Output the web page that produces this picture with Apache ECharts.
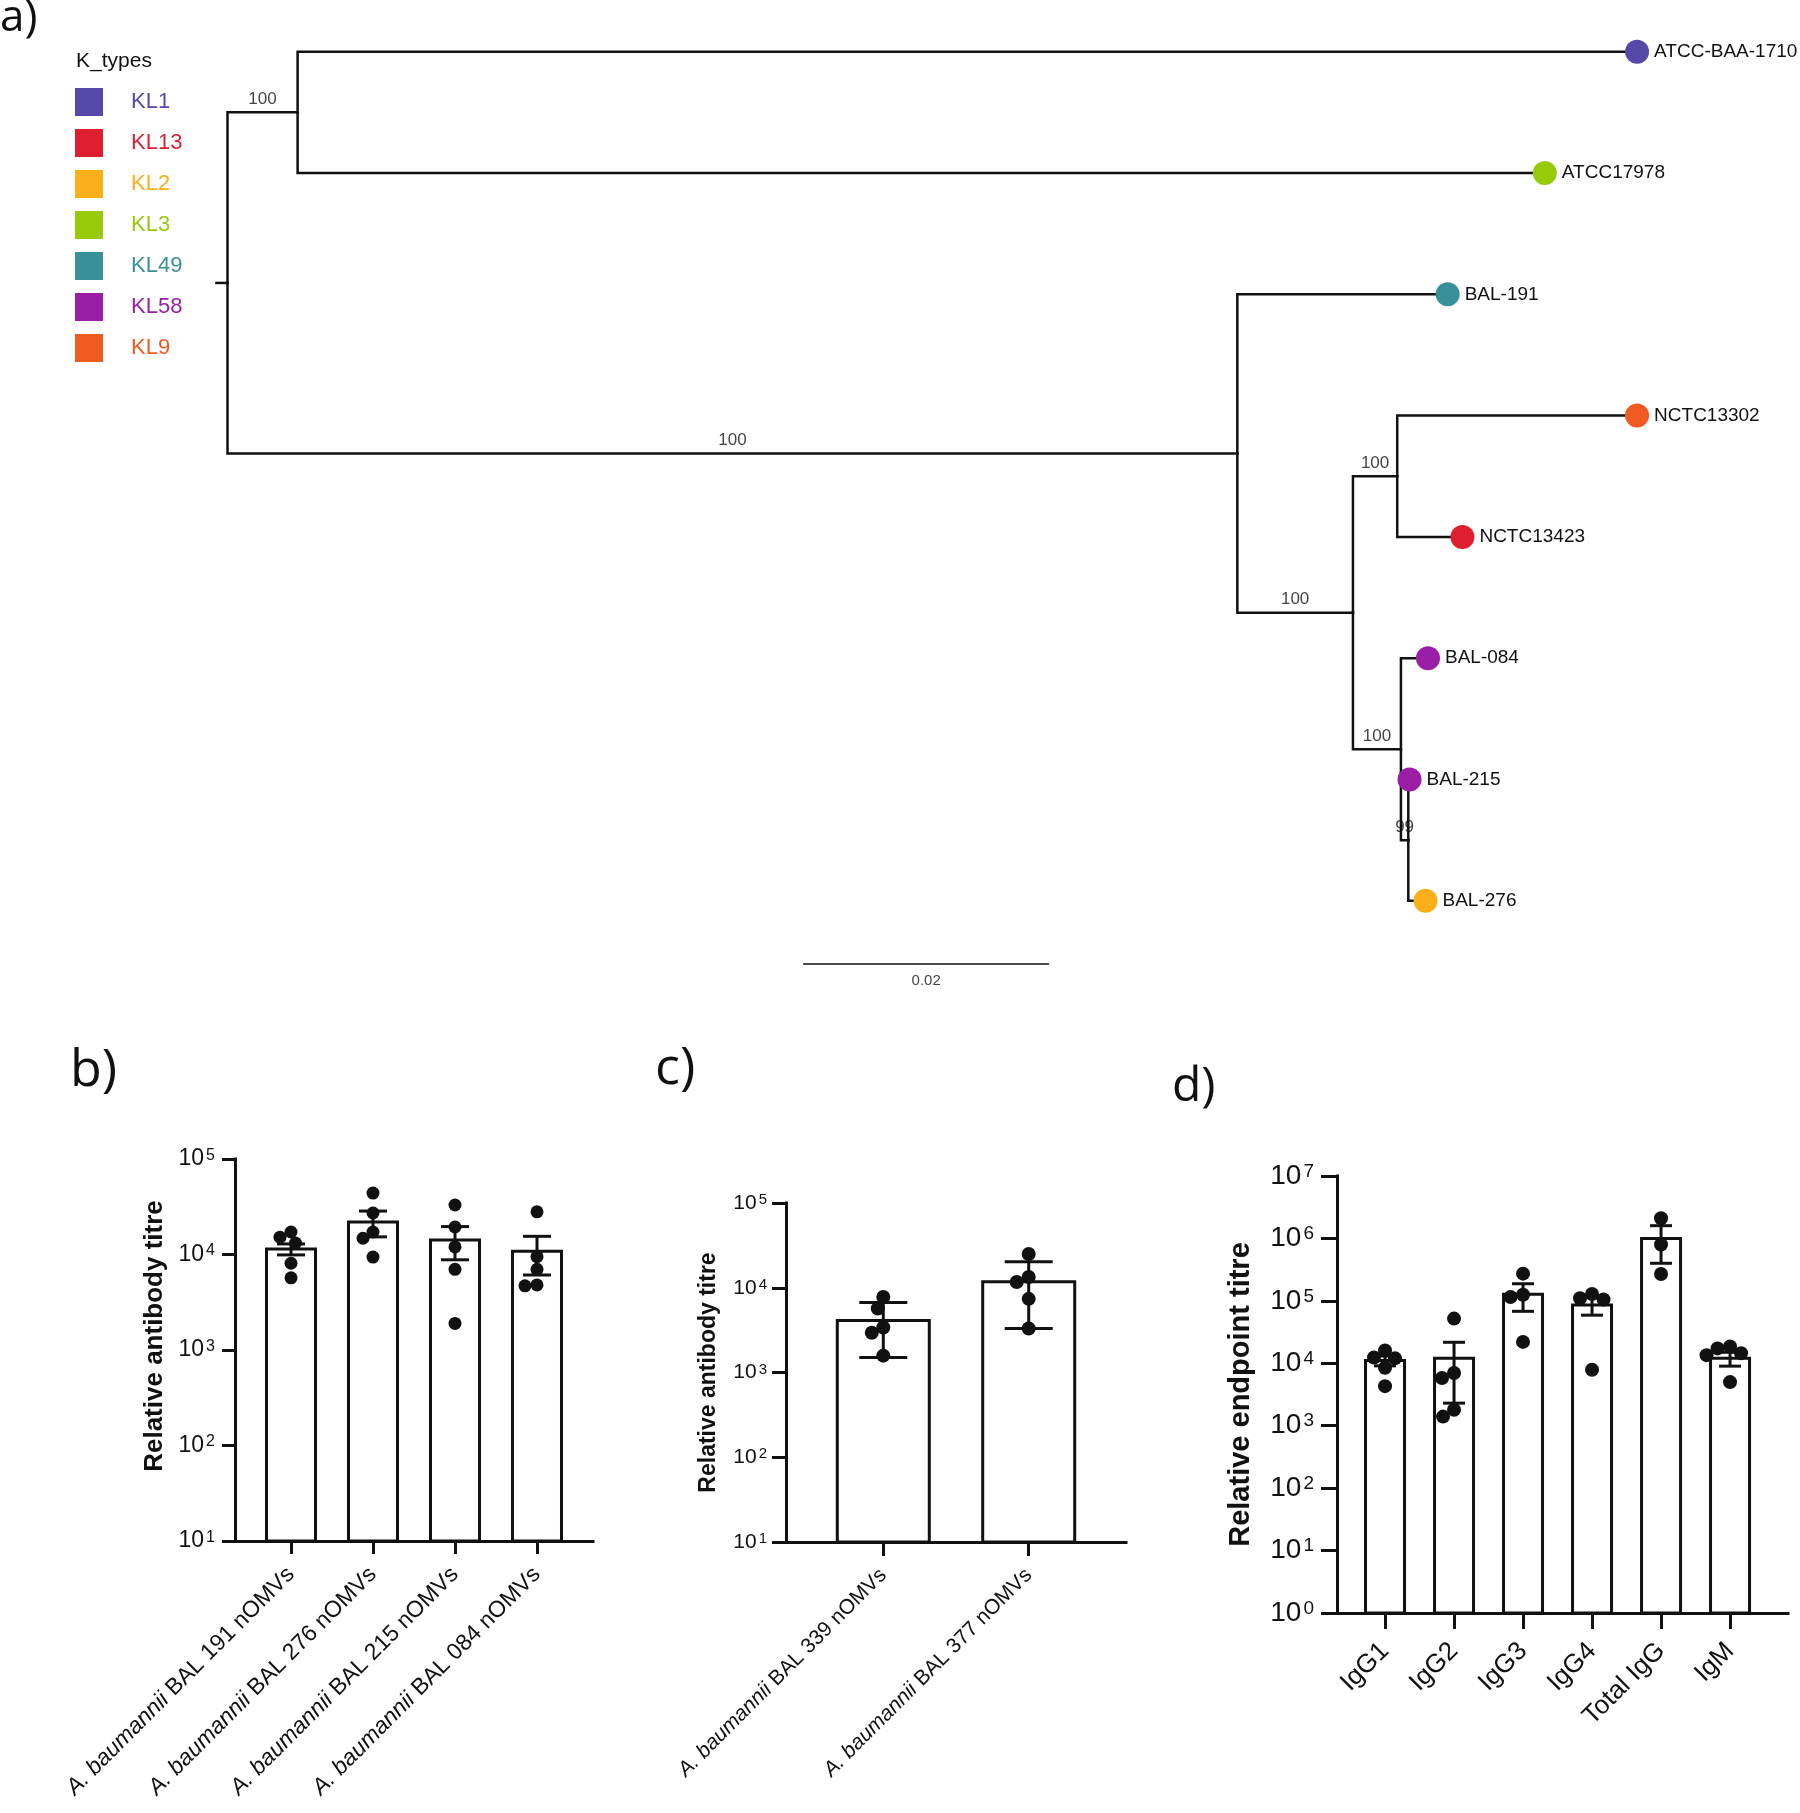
<!DOCTYPE html>
<html><head><meta charset="utf-8">
<script src="https://cdn.jsdelivr.net/npm/echarts@6/dist/echarts.min.js"></script>
<style>html,body{margin:0;padding:0;background:#fff}#c{width:1800px;height:1813px}</style>
</head><body><div id="c"></div>
<script>
// ================= DATA =================
// Phylogenetic tree (a)
const kTypes  = ['KL1','KL13','KL2','KL3','KL49','KL58','KL9'];
const kColors = ['#5548A8','#DF1F30','#F9AE1A','#97CB0A','#3A9098','#9B1EA6','#F15A22'];
const tipNames = ['ATCC-BAA-1710','ATCC17978','BAL-191','NCTC13302','NCTC13423','BAL-084','BAL-215','BAL-276'];
const tipKType = ['KL1','KL3','KL49','KL9','KL13','KL58','KL58','KL2'];
const edgeParent = ['root','n1','n1','root','n2','n2','n3','n4','n4','n3','n5','n5','n6','n6'];
const edgeChild  = ['n1','ATCC-BAA-1710','ATCC17978','n2','BAL-191','n3','n4','NCTC13302','NCTC13423','n5','BAL-084','n6','BAL-215','BAL-276'];
const edgeLength = [0.0057,0.1089,0.1014,0.0821,0.0171,0.0094,0.0036,0.0195,0.0053,0.0039,0.0022,0.0006,0.0001,0.0014];
const supportNodes  = ['n1','n2','n3','n4','n5','n6'];
const supportValues = [100,100,100,100,100,99];
const scaleBarValue = 0.02;

// Panel b
const bCategories = ['A. baumannii BAL 191 nOMVs','A. baumannii BAL 276 nOMVs','A. baumannii BAL 215 nOMVs','A. baumannii BAL 084 nOMVs'];
const bMean = [11400, 21900, 14200, 10800];
const bSem  = [1500, 6600, 5400, 4700];
const bPoints = [
  [17200, 15200, 13200, 8100, 5700],
  [44000, 27200, 17200, 14800, 9400],
  [33000, 19400, 12000, 7000, 1900],
  [28000, 9500, 7000, 4800, 4700]
];
const bTicks = [10, 100, 1000, 10000, 100000];

// Panel c
const cCategories = ['A. baumannii BAL 339 nOMVs','A. baumannii BAL 377 nOMVs'];
const cMean = [4100, 11800];
const cSem  = [2600, 8500];
const cPoints = [
  [7800, 5700, 3400, 2950, 1580],
  [25000, 13400, 11700, 7400, 3300]
];
const cTicks = [10, 100, 1000, 10000, 100000];

// Panel d
const dCategories = ['IgG1','IgG2','IgG3','IgG4','Total IgG','IgM'];
const dMean = [11100, 12000, 128000, 86000, 1000000, 12000];
const dSem  = [2000, 9700, 60000, 27000, 600000, 3000];
const dPoints = [
  [16000, 12400, 12000, 8500, 4300],
  [52000, 7000, 5800, 1800, 1400],
  [273000, 125000, 115000, 22000],
  [129000, 110000, 105000, 7900],
  [2100000, 800000, 270000],
  [18600, 17300, 14500, 13500, 5000]
];
const dTicks = [1, 10, 100, 1000, 10000, 100000, 1000000, 10000000];

// ================= BUILD =================
const SANS = "'Liberation Sans', Arial, sans-serif";
const INK = '#111';

// --- tree layout in data units ---
const nodeX = { root: 0 };
edgeChild.forEach((c, i) => { nodeX[c] = nodeX[edgeParent[i]] + edgeLength[i]; });
function nodeY(n) {
  const t = tipNames.indexOf(n);
  if (t >= 0) return t;
  const ys = [];
  edgeParent.forEach((p, i) => { if (p === n) ys.push(nodeY(edgeChild[i])); });
  return (Math.min(...ys) + Math.max(...ys)) / 2;
}
const branchData = edgeChild.map((c, i) => {
  const p = edgeParent[i];
  return { coords: [[nodeX[p], nodeY(p)], [nodeX[p], nodeY(c)], [nodeX[c], nodeY(c)]] };
});
const rootStub = 0.0009;
branchData.push({ coords: [[-rootStub, nodeY('root')], [0, nodeY('root')]] });

const supportData = supportNodes.map((n, i) => {
  const p = edgeParent[edgeChild.indexOf(n)];
  return { value: [(nodeX[p] + nodeX[n]) / 2, nodeY(n)], label: { formatter: String(supportValues[i]) } };
});

const scaleX0 = 0.0468, scaleY = 7.52;

const tipSeries = kTypes.map((k, ki) => ({
  name: k, type: 'scatter', xAxisIndex: 0, yAxisIndex: 0, z: 5, clip: false,
  symbol: 'circle', symbolSize: 24,
  itemStyle: { color: kColors[ki], opacity: 1 },
  label: { show: true, position: 'right', distance: 5, formatter: p => p.data[2],
           fontFamily: SANS, fontSize: 19, color: INK },
  emphasis: { disabled: true },
  data: tipNames.map((n, i) => tipKType[i] === k ? [nodeX[n], nodeY(n), n] : null).filter(Boolean)
}));

// --- bar panels ---
function swarm(api, g, vals, d) {
  const ys = vals.map(v => api.coord([g, v])[1]);
  const order = ys.map((y, i) => i).sort((a, b) => ys[a] - ys[b]);
  const xs = new Array(vals.length);
  const placed = [];
  order.forEach(i => {
    for (let k = 0; k < 400; k++) {
      const cands = k === 0 ? [0] : [-k * 0.5, k * 0.5];
      let found = null;
      for (const c of cands) {
        if (placed.every(j => (xs[j] - c) ** 2 + (ys[j] - ys[i]) ** 2 >= d * d)) { found = c; break; }
      }
      if (found !== null) { xs[i] = found; break; }
    }
    placed.push(i);
  });
  return xs;
}

function supFmt(v) { return '10{s|' + Math.round(Math.log10(v)) + '}'; }

function panel(gi, cats, mean, sem, points, ticks, cfg) {
  const n = cats.length;
  const idx = cats.map((c, i) => i);
  const xAxis = {
    type: 'value', gridIndex: gi, min: cfg.xmin, max: n - 1 + cfg.xmaxPad,
    splitLine: { show: false },
    axisLine: { show: true, onZero: false, lineStyle: { color: INK, width: 3, cap: 'square' } },
    axisTick: { show: true, customValues: idx, length: cfg.tickLen, lineStyle: { color: INK, width: 3 } },
    axisLabel: {
      show: true, customValues: idx, rotate: 45, margin: cfg.xLabelMargin,
      fontFamily: SANS, fontSize: cfg.xFont, color: INK,
      formatter: v => cats[Math.round(v)].replace('A. baumannii', '{i|A. baumannii}'),
      rich: { i: { fontStyle: 'italic', fontFamily: SANS, fontSize: cfg.xFont, color: INK } }
    }
  };
  const yAxis = {
    type: 'log', logBase: 10, gridIndex: gi, min: ticks[0], max: ticks[ticks.length - 1],
    splitLine: { show: false },
    axisLine: { show: true, onZero: false, lineStyle: { color: INK, width: 3, cap: 'square' } },
    axisTick: { show: true, customValues: ticks, length: cfg.tickLen, lineStyle: { color: INK, width: 3 } },
    axisLabel: {
      show: true, customValues: ticks, margin: cfg.yLabelMargin, formatter: supFmt,
      fontFamily: SANS, fontSize: cfg.yFont, color: INK,
      rich: {
        s: { fontFamily: SANS, fontSize: cfg.supFont, color: INK, verticalAlign: 'top', lineHeight: cfg.supFont, padding: [0, 0, 0, 2] }
      }
    },
    name: cfg.yName, nameLocation: 'middle', nameRotate: 90, nameGap: cfg.nameGap,
    nameTextStyle: { fontFamily: SANS, fontSize: cfg.nameFont, fontWeight: 'bold', color: INK, padding: cfg.namePad }
  };
  const yMin = ticks[0];
  const bars = {
    type: 'custom', xAxisIndex: gi, yAxisIndex: gi, z: 2, silent: true,
    encode: { x: 0, y: 1 },
    data: mean.map((m, i) => [i, m]),
    renderItem: (params, api) => {
      const x = api.value(0), v = api.value(1);
      const top = api.coord([x, v]), base = api.coord([x, yMin]);
      const w = cfg.barW - 3;
      return { type: 'rect', shape: { x: top[0] - w / 2, y: top[1], width: w, height: base[1] - top[1] },
               style: { fill: '#fff', stroke: INK, lineWidth: 3 } };
    }
  };
  const errs = {
    type: 'custom', xAxisIndex: gi, yAxisIndex: gi, z: 3, silent: true,
    encode: { x: 0, y: 1 },
    data: mean.map((m, i) => [i, m, sem[i]]),
    renderItem: (params, api) => {
      const x = api.value(0), m = api.value(1), s = api.value(2);
      const hi = api.coord([x, m + s]), lo = api.coord([x, m - s]);
      const cp = cfg.cap, st = { stroke: INK, lineWidth: 3 };
      return { type: 'group', children: [
        { type: 'line', shape: { x1: hi[0], y1: hi[1], x2: lo[0], y2: lo[1] }, style: st },
        { type: 'line', shape: { x1: hi[0] - cp, y1: hi[1], x2: hi[0] + cp, y2: hi[1] }, style: st },
        { type: 'line', shape: { x1: lo[0] - cp, y1: lo[1], x2: lo[0] + cp, y2: lo[1] }, style: st }
      ] };
    }
  };
  const dotData = [];
  points.forEach((arr, g) => arr.forEach((v, k) => dotData.push([g, v, k])));
  const dots = {
    type: 'custom', xAxisIndex: gi, yAxisIndex: gi, z: 4, silent: true,
    encode: { x: 0, y: 1 },
    data: dotData,
    renderItem: (params, api) => {
      const g = api.value(0), v = api.value(1), k = api.value(2);
      const offs = swarm(api, g, points[g], cfg.dot * 0.9);
      const c = api.coord([g, v]);
      return { type: 'circle', shape: { cx: c[0] + offs[k], cy: c[1], r: cfg.dot / 2 }, style: { fill: INK } };
    }
  };
  return { xAxis, yAxis, series: [bars, errs, dots] };
}

const pb = panel(1, bCategories, bMean, bSem, bPoints, bTicks, {
  xmin: -0.683, xmaxPad: 0.683, tickLen: 13, xLabelMargin: 30, xFont: 23,
  yLabelMargin: 20, yFont: 23, supFont: 16, yName: 'Relative antibody titre', nameGap: 67, nameFont: 26,
  namePad: [0, 0, 0, 28], barW: 52, cap: 14, dot: 13
});
const pc = panel(2, cCategories, cMean, cSem, cPoints, cTicks, {
  xmin: -0.669, xmaxPad: 0.669, tickLen: 14, xLabelMargin: 30, xFont: 21,
  yLabelMargin: 19, yFont: 21, supFont: 15, yName: 'Relative antibody titre', nameGap: 66, nameFont: 23,
  namePad: 0, barW: 95, cap: 24, dot: 14
});
const pd = panel(3, dCategories, dMean, dSem, dPoints, dTicks, {
  xmin: -0.696, xmaxPad: 0.84, tickLen: 16, xLabelMargin: 34, xFont: 26,
  yLabelMargin: 23, yFont: 28, supFont: 19, yName: 'Relative endpoint titre', nameGap: 82, nameFont: 29,
  namePad: 0, barW: 42, cap: 11, dot: 14
});

const labelFont = "'Open Sans', 'Noto Sans', sans-serif";
const option = {
  animation: false,
  backgroundColor: '#fff',
  title: [
    { text: 'a)', left: 0, top: -4, padding: 0, textStyle: { fontFamily: labelFont, fontSize: 44, fontWeight: 'normal', color: INK } },
    { text: 'K_types', left: 76, top: 51, padding: 0, textStyle: { fontFamily: SANS, fontSize: 21, fontWeight: 'normal', color: INK } },
    { text: 'b)', left: 70, top: 1045, padding: 0, textStyle: { fontFamily: labelFont, fontSize: 52, fontWeight: 'normal', color: INK } },
    { text: 'c)', left: 655, top: 1043, padding: 0, textStyle: { fontFamily: labelFont, fontSize: 52, fontWeight: 'normal', color: INK } },
    { text: 'd)', left: 1172, top: 1063, padding: 0, textStyle: { fontFamily: labelFont, fontSize: 48, fontWeight: 'normal', color: INK } }
  ],
  legend: {
    orient: 'vertical', left: 75, top: 88, padding: 0,
    itemWidth: 28, itemHeight: 28, itemGap: 13, icon: 'rect', selectedMode: false,
    textStyle: { fontFamily: SANS, fontSize: 22, padding: [0, 0, 0, 23] },
    data: kTypes.map((k, i) => ({ name: k, itemStyle: { color: kColors[i] }, textStyle: { color: kColors[i] } }))
  },
  grid: [
    { left: 227.5, top: 51.7, width: 1476, height: 849.1, containLabel: false },
    { left: 235, top: 1159, width: 358, height: 382 },
    { left: 786, top: 1203, width: 340, height: 339 },
    { left: 1337, top: 1176, width: 451, height: 437 }
  ],
  xAxis: [
    { type: 'value', gridIndex: 0, min: 0, max: 0.12, show: false },
    pb.xAxis, pc.xAxis, pd.xAxis
  ],
  yAxis: [
    { type: 'value', gridIndex: 0, min: 0, max: 7, inverse: true, show: false },
    pb.yAxis, pc.yAxis, pd.yAxis
  ],
  series: [
    { type: 'lines', coordinateSystem: 'cartesian2d', xAxisIndex: 0, yAxisIndex: 0, polyline: true, silent: true, z: 2, clip: false,
      lineStyle: { color: INK, width: 2.5, opacity: 1, join: 'miter', cap: 'square' }, data: branchData },
    { type: 'scatter', xAxisIndex: 0, yAxisIndex: 0, symbolSize: 1, silent: true, z: 3, clip: false,
      itemStyle: { color: 'rgba(0,0,0,0)' },
      label: { show: true, position: 'top', distance: 4, fontFamily: SANS, fontSize: 17, color: INK },
      data: supportData },
    { type: 'lines', coordinateSystem: 'cartesian2d', xAxisIndex: 0, yAxisIndex: 0, polyline: false, silent: true, z: 2, clip: false,
      lineStyle: { color: INK, width: 1.5, opacity: 1 },
      data: [{ coords: [[scaleX0, scaleY], [scaleX0 + scaleBarValue, scaleY]] }] },
    { type: 'scatter', xAxisIndex: 0, yAxisIndex: 0, symbolSize: 1, silent: true, z: 3, clip: false,
      itemStyle: { color: 'rgba(0,0,0,0)' },
      label: { show: true, position: 'bottom', distance: 9, fontFamily: SANS, fontSize: 15, color: INK, formatter: String(scaleBarValue) },
      data: [[scaleX0 + scaleBarValue / 2, scaleY]] },
    ...tipSeries,
    ...pb.series, ...pc.series, ...pd.series
  ]
};
const chart = echarts.init(document.getElementById('c'), null, { renderer: 'canvas' });
chart.setOption(option);
</script>
</body></html>
